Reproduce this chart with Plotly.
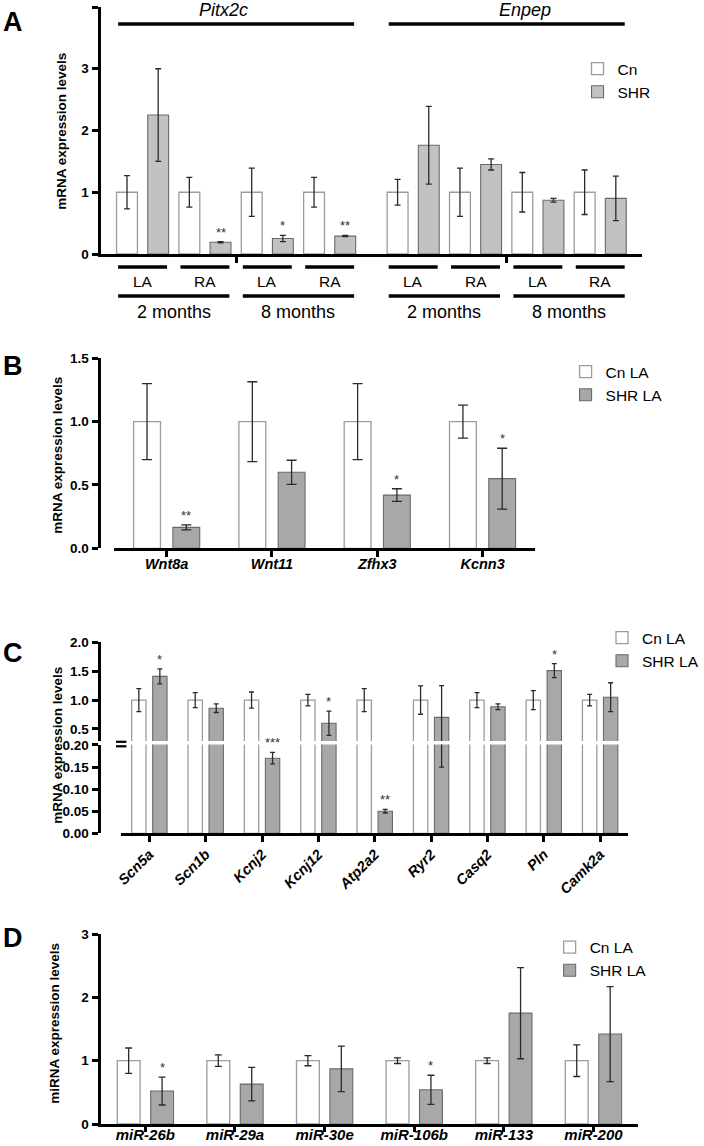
import plotly.graph_objects as go

W, H = 704, 1146
FONT = "Liberation Sans, Arial, sans-serif"

# ---------------- data ----------------
# Panel A (Pitx2c then Enpep; LA/RA at 2 and 8 months)
A_GENES = ["Pitx2c", "Enpep"]
A_SIDES = ["LA", "RA", "LA", "RA"]
A_AGES = ["2 months", "8 months"]
A_CN = [1.0, 1.0, 1.0, 1.0, 1.0, 1.0, 1.0, 1.0]
A_CN_ERR = [0.27, 0.24, 0.39, 0.24, 0.21, 0.39, 0.32, 0.36]
A_SHR = [2.25, 0.19, 0.25, 0.29, 1.76, 1.45, 0.87, 0.90]
A_SHR_ERR = [0.75, 0.01, 0.05, 0.01, 0.63, 0.09, 0.03, 0.36]
A_SIG = ["", "**", "*", "**", "", "", "", ""]
A_YTICKS = [0, 1, 2, 3, 4]

# Panel B
B_GENES = ["Wnt8a", "Wnt11", "Zfhx3", "Kcnn3"]
B_CN = [1.0, 1.0, 1.0, 1.0]
B_CN_ERR = [0.30, 0.315, 0.30, 0.13]
B_SHR = [0.165, 0.60, 0.42, 0.55]
B_SHR_ERR = [0.02, 0.095, 0.05, 0.24]
B_SIG = ["**", "", "*", "*"]
B_YTICKS = [0.0, 0.5, 1.0, 1.5]

# Panel C (broken axis)
C_GENES = ["Scn5a", "Scn1b", "Kcnj2", "Kcnj12", "Atp2a2", "Ryr2", "Casq2", "Pln", "Camk2a"]
C_CN = [1.0, 1.0, 1.0, 1.0, 1.0, 1.0, 1.0, 1.0, 1.0]
C_CN_ERR = [0.20, 0.13, 0.14, 0.10, 0.20, 0.245, 0.13, 0.165, 0.10]
C_SHR = [1.41, 0.86, 0.17, 0.60, 0.05, 0.70, 0.885, 1.51, 1.05]
C_SHR_ERR = [0.13, 0.075, 0.013, 0.21, 0.004, 0.55, 0.05, 0.12, 0.25]
C_SIG = ["*", "", "***", "*", "**", "", "", "*", ""]
C_YTICKS_HIGH = [0.5, 1.0, 1.5, 2.0]
C_YTICKS_LOW = [0.0, 0.05, 0.10, 0.15, 0.20]

# Panel D
D_MIRS = ["miR-26b", "miR-29a", "miR-30e", "miR-106b", "miR-133", "miR-200"]
D_CN = [1.0, 1.0, 1.0, 1.0, 1.0, 1.0]
D_CN_ERR = [0.20, 0.09, 0.08, 0.045, 0.045, 0.25]
D_SHR = [0.52, 0.63, 0.87, 0.54, 1.75, 1.42]
D_SHR_ERR = [0.22, 0.265, 0.36, 0.23, 0.72, 0.75]
D_SIG = ["*", "", "", "*", "", ""]
D_YTICKS = [0, 1, 2, 3]

# ---------------- style / layout constants ----------------
CN_FILL = "white"
CN_LINE = "#9c9c9c"
A_SHR_FILL = "#c2c2c2"
SHR_FILL = "#a8a8a8"
SHR_LINE = "#6a6a6a"
ERR_COL = "#2a2a2a"

GENE_GAP = 0.34           # extra space between Pitx2c and Enpep blocks (group units)
A_BW, A_GAP = 0.335, 0.165
BW, PGAP = 0.255, 0.118   # panels B-D


def offsets(bw, gap):
    left = -(2 * bw + gap) / 2
    return left, left + bw + gap


def px_x(p):
    return p / W


def px_y(p):
    return 1 - p / H


def dom_x(a, b):
    return [a / W, b / W]


def dom_y(top, bottom):
    return [1 - bottom / H, 1 - top / H]


fig = go.Figure()


def add_pair(x, cn, cn_err, shr, shr_err, xa, ya, legend, names, shr_fill,
             bw, gap, cap, showlegend=True):
    o_cn, o_shr = offsets(bw, gap)
    fig.add_trace(go.Bar(
        x=x, y=cn, name=names[0], xaxis=xa, yaxis=ya, legend=legend,
        width=bw, offset=o_cn, showlegend=showlegend,
        marker=dict(color=CN_FILL, line=dict(color=CN_LINE, width=1.3)),
        error_y=dict(type="data", array=cn_err, color=ERR_COL, thickness=1.3, width=cap),
    ))
    fig.add_trace(go.Bar(
        x=x, y=shr, name=names[1], xaxis=xa, yaxis=ya, legend=legend,
        width=bw, offset=o_shr, showlegend=showlegend,
        marker=dict(color=shr_fill, line=dict(color=SHR_LINE, width=1.1)),
        error_y=dict(type="data", array=shr_err, color=ERR_COL, thickness=1.3, width=cap),
    ))


annotations = []
shapes = []


def note(**kw):
    d = dict(showarrow=False, xanchor="center", yanchor="middle")
    d.update(kw)
    annotations.append(d)


def sig_marks(xs, vals, errs, sig, xref, yref, bw, gap):
    _, o_shr = offsets(bw, gap)
    for xi, v, e, s in zip(xs, vals, errs, sig):
        if s:
            note(x=xi + o_shr + bw / 2, y=v + e, xref=xref, yref=yref, text=s,
                 yanchor="bottom", yshift=0, font=dict(family=FONT, size=13, color="#333"))


# ---------------- Panel A ----------------
A_X = [i + (GENE_GAP if i >= 4 else 0) for i in range(len(A_CN))]
add_pair(A_X, A_CN, A_CN_ERR, A_SHR, A_SHR_ERR, "x", "y", "legend",
         ["Cn", "SHR"], A_SHR_FILL, A_BW, A_GAP, 3)
sig_marks(A_X, A_SHR, A_SHR_ERR, A_SIG, "x", "y", A_BW, A_GAP)

half = (2 * A_BW + A_GAP) / 2 - 0.025
GENE_TEXT_SHIFT = [-0.2, 0.3]
for gi, gene in enumerate(A_GENES):
    block = A_X[gi * 4:(gi + 1) * 4]
    shapes.append(dict(type="line", xref="x", yref="paper",
                       x0=block[0] - half, x1=block[-1] + half,
                       y0=px_y(24), y1=px_y(24), line=dict(color="black", width=3.3)))
    note(x=(block[0] + block[-1]) / 2 + GENE_TEXT_SHIFT[gi], y=px_y(10), xref="x", yref="paper",
         text=f"<i>{gene}</i>", font=dict(family=FONT, size=18, color="black"))
    for si, side in enumerate(A_SIDES):
        xc = block[si]
        shapes.append(dict(type="line", xref="x", yref="paper",
                           x0=xc - half, x1=xc + half, y0=px_y(267), y1=px_y(267),
                           line=dict(color="black", width=3.3)))
        note(x=xc, y=px_y(281), xref="x", yref="paper", text=side,
             font=dict(family=FONT, size=15.5, color="black"))
    for ai, age in enumerate(A_AGES):
        pair = block[ai * 2:(ai + 1) * 2]
        shapes.append(dict(type="line", xref="x", yref="paper",
                           x0=pair[0] - half, x1=pair[1] + half, y0=px_y(296), y1=px_y(296),
                           line=dict(color="black", width=3.3)))
        note(x=(pair[0] + pair[1]) / 2, y=px_y(312), xref="x", yref="paper", text=age,
             font=dict(family=FONT, size=18, color="black"))

A_TICKS = [(A_X[1] + A_X[2]) / 2, (A_X[5] + A_X[6]) / 2]

# ---------------- Panel B ----------------
add_pair(B_GENES, B_CN, B_CN_ERR, B_SHR, B_SHR_ERR, "x2", "y2", "legend2",
         ["Cn LA", "SHR LA"], SHR_FILL, BW, PGAP, 5)
sig_marks(list(range(len(B_GENES))), B_SHR, B_SHR_ERR, B_SIG, "x2", "y2", BW, PGAP)

# ---------------- Panel C (upper x3/y3, lower x4/y4) ----------------
C_HIGH_MIN = 0.292
C_LOW_MAX = 0.201
add_pair(C_GENES, C_CN, C_CN_ERR, C_SHR, C_SHR_ERR, "x3", "y3", "legend3",
         ["Cn LA", "SHR LA"], SHR_FILL, BW, PGAP, 2.5)
add_pair(C_GENES, C_CN, C_CN_ERR, C_SHR, C_SHR_ERR, "x4", "y4", "legend3",
         ["Cn LA", "SHR LA"], SHR_FILL, BW, PGAP, 2.5, showlegend=False)
_, o_shr = offsets(BW, PGAP)
for i, (v, e, s) in enumerate(zip(C_SHR, C_SHR_ERR, C_SIG)):
    if s:
        upper = v + e > C_HIGH_MIN
        note(x=i + o_shr + BW / 2, y=v + e, xref="x3" if upper else "x4",
             yref="y3" if upper else "y4", text=s, yanchor="bottom",
             font=dict(family=FONT, size=13, color="#333"))
# axis break mark
for yb in (741.8, 746.3):
    shapes.append(dict(type="line", xref="paper", yref="paper",
                       x0=px_x(116.5), x1=px_x(127), y0=px_y(yb), y1=px_y(yb),
                       line=dict(color="black", width=2.2)))

# ---------------- Panel D ----------------
add_pair(D_MIRS, D_CN, D_CN_ERR, D_SHR, D_SHR_ERR, "x5", "y5", "legend4",
         ["Cn LA", "SHR LA"], SHR_FILL, BW, PGAP, 3.5)
sig_marks(list(range(len(D_MIRS))), D_SHR, D_SHR_ERR, D_SIG, "x5", "y5", BW, PGAP)

# ---------------- titles / panel letters ----------------
for txt, x, y in [("mRNA expression levels", 61, 131), ("mRNA expression levels", 57, 455),
                  ("mRNA expression levels", 57, 745), ("miRNA expression levels", 54, 1023)]:
    note(x=px_x(x), y=px_y(y), xref="paper", yref="paper", text=f"<b>{txt}</b>",
         textangle=-90, font=dict(family=FONT, size=13.5, color="black"))
for txt, x, y in [("A", 13, 22), ("B", 13.5, 366), ("C", 13, 653), ("D", 13.5, 938)]:
    note(x=px_x(x), y=px_y(y), xref="paper", yref="paper", text=f"<b>{txt}</b>",
         font=dict(family=FONT, size=27, color="black"))

# ---------------- axes ----------------
TICKF = dict(family=FONT, size=13.5, color="black", weight="bold")
XLBLF = dict(family=FONT, size=14.5, color="black", weight="bold", style="italic")


def yax(domain, rng, tickvals, fmt=None):
    d = dict(domain=domain, range=rng, tickvals=tickvals, showgrid=False, zeroline=False,
             showline=True, linecolor="black", linewidth=3, ticks="outside", ticklen=6,
             tickwidth=2.5, tickcolor="black", tickfont=TICKF, fixedrange=True,
             automargin=False)
    if fmt:
        d["tickformat"] = fmt
    return d


def xax(domain, rng, anchor, **kw):
    d = dict(domain=domain, range=rng, anchor=anchor, showgrid=False, zeroline=False,
             showline=True, linecolor="black", linewidth=3, ticks="outside", ticklen=6,
             tickwidth=3, tickcolor="black", tickfont=XLBLF, fixedrange=True,
             automargin=False)
    d.update(kw)
    return d


def leg(xp, yp):
    return dict(x=px_x(xp), y=px_y(yp), xanchor="left", yanchor="top", bgcolor="rgba(0,0,0,0)",
                font=dict(family=FONT, size=15.5, color="black"), tracegroupgap=0,
                itemclick=False, itemdoubleclick=False)


fig.update_layout(
    template="none",
    width=W, height=H, margin=dict(l=0, r=0, t=0, b=0, pad=0), autosize=False,
    paper_bgcolor="white", plot_bgcolor="white", barmode="overlay",
    font=dict(family=FONT, color="black"),
    xaxis=xax(dom_x(101, 645), [-0.674, A_X[-1] + 0.674], "y", tickvals=A_TICKS,
              showticklabels=False, type="linear"),
    yaxis=yax(dom_y(7, 254), [0, 4], A_YTICKS),
    xaxis2=xax(dom_x(114.5, 537.5), [-0.5, len(B_GENES) - 0.5], "y2", type="category",
               ticklabelstandoff=-6),
    yaxis2=yax(dom_y(358.3, 548.3), [0, 1.5], B_YTICKS, ".1f"),
    xaxis3=xax(dom_x(121.7, 631), [-0.5, len(C_GENES) - 0.5], "y3", type="category",
               visible=False),
    yaxis3=yax(dom_y(642.3, 741), [C_HIGH_MIN, 2.0], C_YTICKS_HIGH, ".1f"),
    xaxis4=xax(dom_x(121.7, 631), [-0.5, len(C_GENES) - 0.5], "y4", type="category",
               tickangle=-45, ticklabelstandoff=-2,
               tickfont=dict(family=FONT, size=14.5, color="black", weight="bold",
                             style="italic")),
    yaxis4=yax(dom_y(744.5, 833.3), [0, C_LOW_MAX], C_YTICKS_LOW, ".2f"),
    xaxis5=xax(dom_x(101, 641), [-0.5, len(D_MIRS) - 0.5], "y5", type="category",
               ticklen=5, ticklabelstandoff=-10,
               tickfont=dict(family=FONT, size=15, color="black", weight="bold", style="italic")),
    yaxis5=yax(dom_y(934, 1124), [0, 3], D_YTICKS),
    legend=leg(580, 52),
    legend2=leg(568, 355),
    legend3=leg(605, 621),
    legend4=leg(552, 930.5),
    annotations=annotations,
    shapes=shapes,
    showlegend=True,
)

fig.write_html("out.html",
               config={"displayModeBar": False},
               post_script="document.documentElement.style.margin='0';"
                           "document.body.style.margin='0';document.body.style.padding='0';")
